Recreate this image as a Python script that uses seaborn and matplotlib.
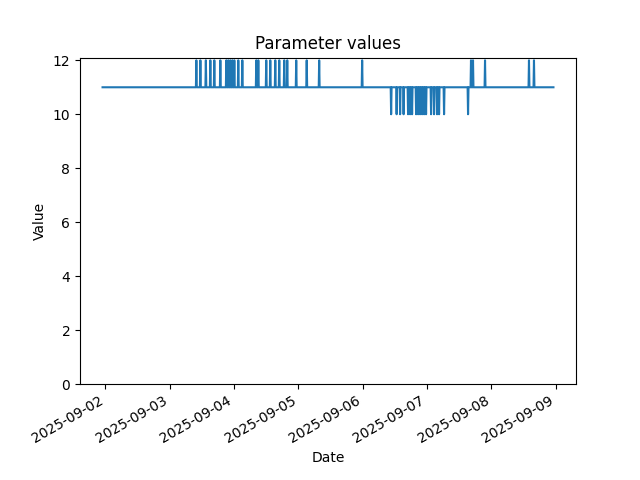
import matplotlib
matplotlib.use("Agg")
from matplotlib import pyplot as plt
import seaborn as sns
import pandas as pd

# series runs at 11 with short jumps to 12 and drops to 10
start_time = "2025-09-01 22:55"
end_time = "2025-09-08 23:10"
base_value = 11

high_times = [
    "2025-09-03 09:55", "2025-09-03 11:25", "2025-09-03 13:28", "2025-09-03 15:08",
    "2025-09-03 16:37", "2025-09-03 18:52", "2025-09-03 21:06", "2025-09-03 21:50",
    "2025-09-03 22:35", "2025-09-03 23:20", "2025-09-04 00:05", "2025-09-04 01:34",
    "2025-09-04 03:04", "2025-09-04 08:17", "2025-09-04 09:02", "2025-09-04 12:00",
    "2025-09-04 13:30", "2025-09-04 15:22", "2025-09-04 16:51", "2025-09-04 18:43",
    "2025-09-04 19:50", "2025-09-04 23:11", "2025-09-05 03:06", "2025-09-05 07:45",
    "2025-09-05 23:47", "2025-09-07 16:24", "2025-09-07 17:09", "2025-09-07 21:38",
    "2025-09-08 14:02", "2025-09-08 15:54",
]
high_value = 12

low_times = [
    "2025-09-06 10:36", "2025-09-06 12:39", "2025-09-06 13:57", "2025-09-06 15:15",
    "2025-09-06 16:55", "2025-09-06 17:40", "2025-09-06 18:25", "2025-09-06 19:55",
    "2025-09-06 20:40", "2025-09-06 21:24", "2025-09-06 22:09", "2025-09-06 22:54",
    "2025-09-06 23:38", "2025-09-07 01:30", "2025-09-07 02:37", "2025-09-07 03:44",
    "2025-09-07 04:29", "2025-09-07 06:21", "2025-09-07 15:18",
]
low_value = 10

# build the sampled series: each event is a short excursion from the base value
rows = [(pd.Timestamp(start_time), base_value), (pd.Timestamp(end_time), base_value)]
step = pd.Timedelta(minutes=10)
for times, val in [(high_times, high_value), (low_times, low_value)]:
    for t in times:
        t = pd.Timestamp(t)
        rows += [(t - step, base_value), (t, val), (t + step, base_value)]

df = pd.DataFrame(rows, columns=["Date", "Value"]).sort_values("Date")

fig, ax = plt.subplots(figsize=(6.4, 4.8), dpi=100)
sns.lineplot(data=df, x="Date", y="Value", ax=ax, color="#1f77b4", linewidth=1.5)
ax.set_ylim(bottom=0)
ax.set_title("Parameter values")
ax.set_xlabel("Date")
ax.set_ylabel("Value")
fig.autofmt_xdate()
fig.savefig("out.png")
